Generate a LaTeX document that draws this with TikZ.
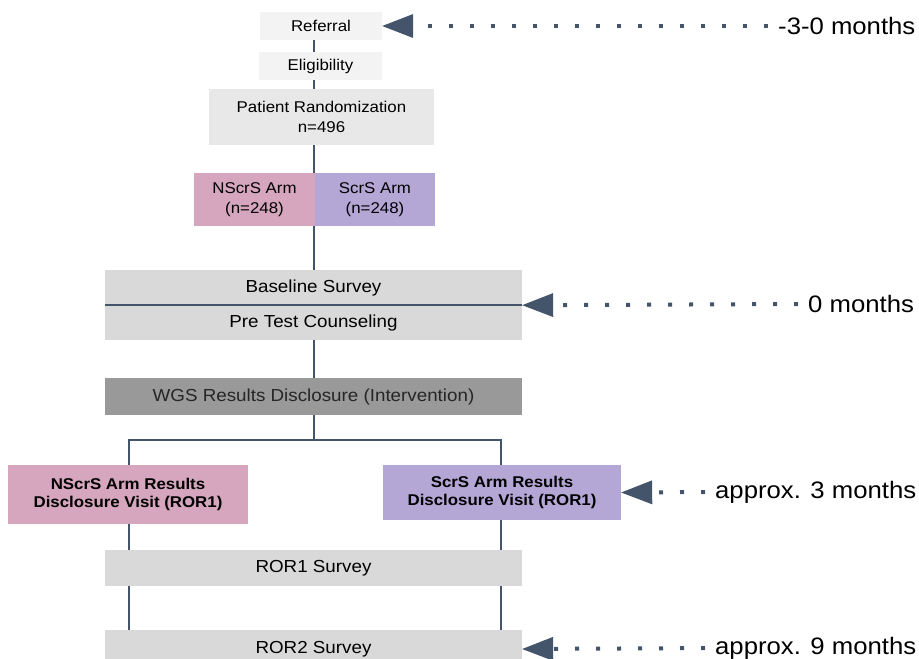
\documentclass[tikz,border=0pt]{standalone}
\usepackage{fontspec}
\setmainfont{Liberation Sans}[FakeStretch=1.08]
\usetikzlibrary{arrows.meta,backgrounds}
\definecolor{lightA}{HTML}{F3F3F3}
\definecolor{lightB}{HTML}{E8E8E8}
\definecolor{grayC}{HTML}{D9D9D9}
\definecolor{grayD}{HTML}{999999}
\definecolor{pinkA}{HTML}{D5A6BD}
\definecolor{purpA}{HTML}{B4A7D6}
\definecolor{slate}{HTML}{44546A}
\tikzset{
  box/.style={draw=none, inner sep=0pt, align=center, text=black},
  smallf/.style={font=\fontsize{15.6}{19.5}\selectfont},
  medf/.style={font=\fontsize{17.4}{20}\selectfont},
  boldf/.style={font=\fontsize{15.6}{18.5}\selectfont\bfseries},
  tlab/.style={inner sep=0pt, anchor=west, font=\fontsize{23.8}{26}\selectfont, text=black},
  conn/.style={draw=slate, line width=1.4pt},
  divline/.style={draw=slate, line width=2pt},
  tl/.style={draw=slate, line width=4pt, line cap=butt, dash pattern=on 4pt off 17pt,
     -{Triangle[length=31pt,width=24pt,line width=0pt]}, shorten <=10pt},
}
\begin{document}
\begin{tikzpicture}[x=1pt,y=-1pt]
\useasboundingbox (0,0) rectangle (919,659);
\coordinate (spine) at (314,0);
\coordinate (j) at (314,440);
% upper boxes
\node[box, smallf, fill=lightA, minimum width=122pt, minimum height=28pt] (ref) at (321,26) {Referral};
\node[box, smallf, fill=lightA, minimum width=123pt, minimum height=28pt] (elig) at (320.5,66) {Eligibility};
\node[box, smallf, fill=lightB, minimum width=225pt, minimum height=56pt] (rand) at (321.5,117) {Patient Randomization\\n=496};
\node[box, smallf, fill=pinkA, minimum width=121pt, minimum height=53pt] (narm) at (254.5,199.5) {NScrS Arm\\(n=248)};
\node[box, smallf, fill=purpA, minimum width=120pt, minimum height=53pt] (sarm) at (375,199.5) {ScrS Arm\\(n=248)};
% middle boxes
\node[box, medf, fill=grayC, minimum width=417pt, minimum height=35pt] (base) at (313.5,287.5) {Baseline Survey};
\node[box, medf, fill=grayC, minimum width=417pt, minimum height=35pt] (pre) at (313.5,322.5) {Pre Test Counseling};
\node[box, medf, fill=grayD, text=black!85, minimum width=417pt, minimum height=37pt] (wgs) at (313.5,396.5) {WGS Results Disclosure (Intervention)};
% results boxes
\node[box, boldf, fill=pinkA, minimum width=240pt, minimum height=59pt] (nres) at (128,494.5) {NScrS Arm Results\\Disclosure Visit (ROR1)};
\node[box, boldf, fill=purpA, minimum width=238pt, minimum height=55pt] (sres) at (502,492.5) {ScrS Arm Results\\Disclosure Visit (ROR1)};
\node[box, medf, fill=grayC, minimum width=417pt, minimum height=36pt] (ror1) at (313.5,568) {ROR1 Survey};
\node[box, medf, fill=grayC, minimum width=417pt, minimum height=38pt] (ror2) at (313.5,649) {ROR2 Survey};
% connectors
\begin{scope}[on background layer]
\draw[conn] (ref.south -| spine) -- (elig.north -| spine);
\draw[conn] (elig.south -| spine) -- (rand.north -| spine);
\draw[conn] (rand.south -| spine) -- (narm.north -| spine);
\draw[conn] (narm.south -| spine) -- (base.north -| spine);
\draw[conn] (pre.south -| spine) -- (wgs.north -| spine);
\draw[conn] (wgs.south -| spine) -- (j);
\draw[conn] ([xshift=1pt]nres.north) -- ([xshift=1pt]nres.north |- j) -- ([xshift=-1pt]sres.north |- j) -- ([xshift=-1pt]sres.north);
\draw[conn] ([xshift=1pt]nres.south) -- ([xshift=1pt]nres.south |- ror2.north);
\draw[conn] ([xshift=-1pt]sres.south) -- ([xshift=-1pt]sres.south |- ror2.north);
\end{scope}
\draw[divline] (base.south west) -- (base.south east);
% timeline labels
\node[tlab] (t1) at (778,26) {-3-0 months};
\node[tlab] (t2) at (808,304) {0 months};
\node[tlab] (t3) at (715,492) {approx. 3 months};
\node[tlab] (t4) at (715,648) {approx. 9 months};
\draw[tl] (t1.west) -- (ref.east);
\draw[tl] (t2.west) -- (base.south east);
\draw[tl] (t3.west) -- (sres.east);
\draw[tl] (t4.west) -- (ror2.east);
\end{tikzpicture}
\end{document}
